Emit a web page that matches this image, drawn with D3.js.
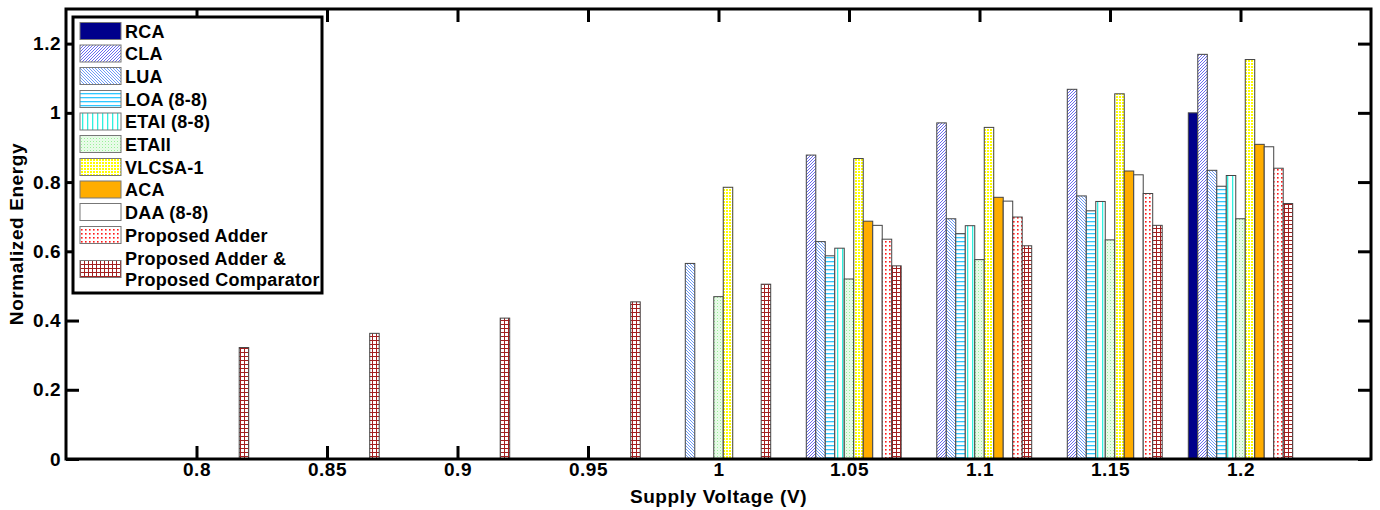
<!DOCTYPE html>
<html>
<head>
<meta charset="utf-8">
<script src="https://d3js.org/d3.v7.min.js"></script>
<style>
    body { margin: 0; background: #fff; }
    text { font-family: "Liberation Sans", Arial, sans-serif; font-weight: bold; }
</style>
</head>
<body>
<div id="chart"></div>
<script>

var voltages = [0.8, 0.85, 0.9, 0.95, 1, 1.05, 1.1, 1.15, 1.2];
var xTicks = ["0.8", "0.85", "0.9", "0.95", "1", "1.05", "1.1", "1.15", "1.2"];
var yTicks = [0, 0.2, 0.4, 0.6, 0.8, 1, 1.2];

var seriesNames = ["RCA", "CLA", "LUA", "LOA (8-8)", "ETAI (8-8)", "ETAII", "VLCSA-1", "ACA", "DAA (8-8)", "Proposed Adder", "Proposed Adder & Proposed Comparator"];

var rca   = [null, null, null, null, null, null, null, null, 1.000];
var cla   = [null, null, null, null, null, 0.878, 0.971, 1.068, 1.169];
var lua   = [null, null, null, null, 0.565, 0.628, 0.694, 0.760, 0.834];
var loa   = [null, null, null, null, null, 0.587, 0.651, 0.717, 0.788];
var etai  = [null, null, null, null, null, 0.609, 0.674, 0.744, 0.819];
var etaii = [null, null, null, null, 0.469, 0.520, 0.576, 0.633, 0.694];
var vlcsa = [null, null, null, null, 0.785, 0.868, 0.958, 1.055, 1.154];
var aca   = [null, null, null, null, null, 0.687, 0.756, 0.832, 0.909];
var daa   = [null, null, null, null, null, 0.675, 0.745, 0.821, 0.902];
var pa    = [null, null, null, null, null, 0.635, 0.699, 0.767, 0.840];
var pac   = [0.322, 0.363, 0.407, 0.454, 0.505, 0.558, 0.616, 0.675, 0.738];

var allSeries = [rca, cla, lua, loa, etai, etaii, vlcsa, aca, daa, pa, pac];

var W = 1380, H = 510;
var margin = { top: 9, right: 9, bottom: 51, left: 66 };

var svg = d3.select("#chart")
    .append("svg")
    .attr("width", W)
    .attr("height", H);

var defs = svg.append("defs");

// hatch patterns, one per series
function pattern(id, w, h, draw) {
    var p = defs.append("pattern")
        .attr("id", id)
        .attr("patternUnits", "userSpaceOnUse")
        .attr("width", w)
        .attr("height", h);
    p.append("rect").attr("width", w).attr("height", h).attr("fill", "#fff");
    draw(p);
}

pattern("p-cla", 3, 3, function(p) {
    p.append("path").attr("d", "M-1,1 l2,-2 M0,3 l3,-3 M2,4 l2,-2").attr("stroke", "#6a6af0").attr("stroke-width", 1);
});
pattern("p-lua", 3, 3, function(p) {
    p.append("path").attr("d", "M-1,2 l2,2 M0,0 l3,3 M2,-1 l2,2").attr("stroke", "#6f9cf5").attr("stroke-width", 1);
});
pattern("p-loa", 4, 4, function(p) {
    p.append("rect").attr("y", 1).attr("width", 4).attr("height", 1.3).attr("fill", "#30c8ff");
});
pattern("p-etai", 5, 4, function(p) {
    p.append("rect").attr("x", 2).attr("width", 1.3).attr("height", 4).attr("fill", "#30f0e0");
});
pattern("p-etaii", 3, 3, function(p) {
    p.append("rect").attr("width", 1).attr("height", 1).attr("fill", "#99ee99");
    p.append("rect").attr("x", 1.5).attr("y", 1.5).attr("width", 1).attr("height", 1).attr("fill", "#99ee99");
    p.append("rect").attr("x", 1.5).attr("width", 1).attr("height", 1).attr("fill", "#d4fbd4");
    p.append("rect").attr("y", 1.5).attr("width", 1).attr("height", 1).attr("fill", "#d4fbd4");
});
pattern("p-vlcsa", 3, 3, function(p) {
    p.append("rect").attr("width", 2).attr("height", 2).attr("fill", "#ffff00");
});
pattern("p-pa", 4, 4, function(p) {
    p.append("rect").attr("x", 1).attr("y", 1).attr("width", 1.6).attr("height", 1.6).attr("fill", "#ff1a1a");
});
pattern("p-pac", 4, 4, function(p) {
    p.append("path").attr("d", "M0,0.5 H4 M0.5,0 V4").attr("stroke", "#a31f1f").attr("stroke-width", 1);
});

var fills = ["#00008b", "url(#p-cla)", "url(#p-lua)", "url(#p-loa)", "url(#p-etai)", "url(#p-etaii)",
    "url(#p-vlcsa)", "#ffad00", "#fff", "url(#p-pa)", "url(#p-pac)"];

var width = W - margin.left - margin.right,
    height = H - margin.top - margin.bottom;

var x = d3.scaleLinear().domain([0.75, 1.25]).range([margin.left, margin.left + width]);
var y = d3.scaleLinear().domain([0, 1.3]).range([margin.top + height, margin.top]);

// bar offsets inside a group, in data units
var offset = d3.scaleBand()
    .domain(d3.range(allSeries.length))
    .range([-0.02, 0.02]);

// axes ticks first, bars cover them
var axes = svg.append("g").attr("class", "axes");
var tickLen = 13;

axes.append("g")
    .attr("transform", "translate(0," + y(0) + ")")
    .call(d3.axisBottom(x).tickValues(voltages).tickFormat(function(d, i) { return xTicks[i]; }).tickSize(-tickLen).tickPadding(4));

axes.append("g")
    .attr("transform", "translate(0," + y(1.3) + ")")
    .call(d3.axisTop(x).tickValues(voltages).tickFormat("").tickSize(-tickLen));

axes.append("g")
    .attr("transform", "translate(" + x(0.75) + ",0)")
    .call(d3.axisLeft(y).tickValues(yTicks).tickFormat(d3.format("")).tickSize(-tickLen).tickPadding(5));

axes.append("g")
    .attr("transform", "translate(" + x(1.25) + ",0)")
    .call(d3.axisRight(y).tickValues(yTicks).tickFormat("").tickSize(-tickLen));

axes.selectAll(".domain").remove();
axes.selectAll(".tick line").attr("stroke", "#000").attr("stroke-width", 3);
axes.selectAll(".tick text")
    .attr("font-size", 19)
    .attr("letter-spacing", 0.5)
    .attr("fill", "#000");

var bars = svg.append("g").attr("class", "bars");

allSeries.forEach(function(vals, si) {
    var pts = vals.map(function(v, i) { return { v: voltages[i], e: v }; })
        .filter(function(d) { return d.e != null; });

    bars.selectAll(".s" + si)
        .data(pts)
        .enter().append("rect")
        .attr("class", "s" + si)
        .attr("x", function(d) { return x(d.v + offset(si)); })
        .attr("width", function(d) { return x(d.v + offset(si) + offset.bandwidth()) - x(d.v + offset(si)); })
        .attr("y", function(d) { return y(d.e); })
        .attr("height", function(d) { return y(0) - y(d.e); })
        .attr("fill", fills[si])
        .attr("stroke", "#444")
        .attr("stroke-width", 1);
});

svg.append("rect")
    .attr("x", x(0.75))
    .attr("y", y(1.3))
    .attr("width", x(1.25) - x(0.75))
    .attr("height", y(0) - y(1.3))
    .attr("fill", "none")
    .attr("stroke", "#000")
    .attr("stroke-width", 3);

svg.append("text")
    .attr("x", (x(0.75) + x(1.25)) / 2)
    .attr("y", 503)
    .attr("text-anchor", "middle")
    .attr("font-size", 19)
    .attr("letter-spacing", 0.6)
    .text("Supply Voltage (V)");

svg.append("text")
    .attr("transform", "translate(23," + (y(0) + y(1.3)) / 2 + ") rotate(-90)")
    .attr("text-anchor", "middle")
    .attr("font-size", 19)
    .attr("letter-spacing", 0.6)
    .text("Normalized Energy");

// legend
var legend = svg.append("g").attr("class", "legend");

legend.append("rect")
    .attr("x", 73)
    .attr("y", 17)
    .attr("width", 249)
    .attr("height", 276)
    .attr("fill", "#fff")
    .attr("stroke", "#000")
    .attr("stroke-width", 3);

var rowY = [31, 53.5, 76, 99, 121.5, 144, 167, 189.5, 212, 235, 269];

seriesNames.forEach(function(name, i) {
    legend.append("rect")
        .attr("x", 80)
        .attr("y", rowY[i] - 8.5)
        .attr("width", 41)
        .attr("height", 17)
        .attr("fill", fills[i])
        .attr("stroke", "#777")
        .attr("stroke-width", 1);

    var lines = i < seriesNames.length - 1 ? [name] : ["Proposed Adder &", "Proposed Comparator"];
    var ys = lines.length == 1 ? [rowY[i] + 6.5] : [rowY[i] - 4, rowY[i] + 17];

    lines.forEach(function(line, j) {
        legend.append("text")
            .attr("x", 125)
            .attr("y", ys[j])
            .attr("font-size", 18)
            .attr("letter-spacing", 0.25)
            .text(line);
    });
});

</script>
</body>
</html>
